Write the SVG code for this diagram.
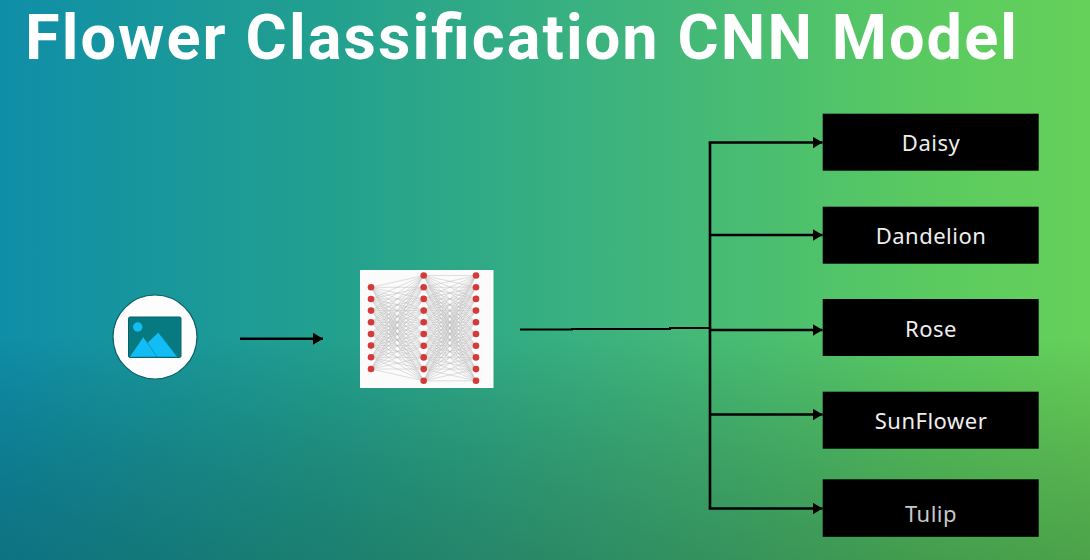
<svg xmlns="http://www.w3.org/2000/svg" width="1090" height="560" viewBox="0 0 1090 560">
<style>
.title{font-family:"Roboto","Noto Sans",sans-serif;font-weight:700;font-size:63px;fill:#fff}
.label{font-family:"Noto Sans","Open Sans",sans-serif;font-size:22px;fill:#eee;text-anchor:middle;letter-spacing:.5px}
.box{fill:#000}
.conn{fill:none;stroke:#000;stroke-width:2.6}
.edge{fill:none;stroke:#b8b8b8;stroke-width:.45}
.n{fill:#d53a3a}
</style>
<defs>
<linearGradient id="bg" x1="0" y1="0" x2="1" y2="0">
<stop offset="0" stop-color="#0f8ea8"/>
<stop offset=".3" stop-color="#22a08f"/>
<stop offset=".6" stop-color="#40b67b"/>
<stop offset=".85" stop-color="#5aca60"/>
<stop offset="1" stop-color="#66d15a"/>
</linearGradient>
<linearGradient id="shade" x1="0" y1="0" x2="0" y2="1">
<stop offset="0" stop-color="#000" stop-opacity="0"/>
<stop offset=".6" stop-color="#000" stop-opacity="0"/>
<stop offset="1" stop-color="#0a2a20" stop-opacity=".28"/>
</linearGradient>
<marker id="ah" viewBox="0 0 10 12" refX="10" refY="6" markerWidth="10" markerHeight="12" markerUnits="userSpaceOnUse" orient="auto"><path d="M0 0L10 6L0 12Z" fill="#000"/></marker>
</defs>
<rect width="1090" height="560" fill="url(#bg)"/>
<rect width="1090" height="560" fill="url(#shade)"/>
<text class="title" x="25" y="59" textLength="992" lengthAdjust="spacing">Flower Classification CNN Model</text>
<g id="connectors">
<path class="conn" style="stroke-width:2.4" d="M240 338.7H323" marker-end="url(#ah)"/>
<path class="conn" style="stroke-width:2" d="M520 329.6H572V329H670V328H710"/>
<path class="conn" d="M710 142.5V508.5"/>
<path class="conn" d="M708.7 142.5H822.5" marker-end="url(#ah)"/>
<path class="conn" d="M710 235H822.5" marker-end="url(#ah)"/>
<path class="conn" d="M710 330H822.500" marker-end="url(#ah)"/>
<path class="conn" d="M710 414.5H822.5" marker-end="url(#ah)"/>
<path class="conn" d="M708.7 508.5H822.5" marker-end="url(#ah)"/>
</g>
<g id="input-image">
<circle cx="155" cy="337" r="42" fill="#fdfdfd" stroke="#0d5f68" stroke-width="1.2"/>
<rect x="128.500" y="317" width="52.500" height="40.500" rx="1.500" fill="#067a80" stroke="#056068" stroke-width="1"/>
<circle cx="137.700" cy="327" r="4.700" fill="#12bdf5"/>
<path d="M158.300 332.300L177.500 357H150L145 345Z" fill="#12bdf5" stroke="#067a80" stroke-width=".6"/>
<path d="M143.300 336.700L157 357H129.500Z" fill="#12bdf5" stroke="#067a80" stroke-width=".6"/>
</g>
<g id="cnn-model">
<rect x="360" y="270" width="133.500" height="118" fill="#fbfbfb"/>
<path class="edge" d="M371 287.300L423.700 275.500M371 287.300L423.700 287.200M371 287.300L423.700 298.900M371 287.300L423.700 310.600M371 287.300L423.700 322.300M371 287.300L423.700 334M371 287.300L423.700 345.700M371 287.300L423.700 357.400M371 287.300L423.700 369.100M371 287.300L423.700 380.800
M371 299L423.700 275.500M371 299L423.700 287.200M371 299L423.700 298.900M371 299L423.700 310.600M371 299L423.700 322.300M371 299L423.700 334M371 299L423.700 345.700M371 299L423.700 357.400M371 299L423.700 369.100M371 299L423.700 380.800
M371 310.600L423.700 275.500M371 310.600L423.700 287.200M371 310.600L423.700 298.900M371 310.600L423.700 310.600M371 310.600L423.700 322.300M371 310.600L423.700 334M371 310.600L423.700 345.700M371 310.600L423.700 357.400M371 310.600L423.700 369.100M371 310.600L423.700 380.800
M371 322.300L423.700 275.500M371 322.300L423.700 287.200M371 322.300L423.700 298.900M371 322.300L423.700 310.600M371 322.300L423.700 322.300M371 322.300L423.700 334M371 322.300L423.700 345.700M371 322.300L423.700 357.400M371 322.300L423.700 369.100M371 322.300L423.700 380.800
M371 334L423.700 275.500M371 334L423.700 287.200M371 334L423.700 298.900M371 334L423.700 310.600M371 334L423.700 322.300M371 334L423.700 334M371 334L423.700 345.700M371 334L423.700 357.400M371 334L423.700 369.100M371 334L423.700 380.800
M371 345.600L423.700 275.500M371 345.600L423.700 287.200M371 345.600L423.700 298.900M371 345.600L423.700 310.600M371 345.600L423.700 322.300M371 345.600L423.700 334M371 345.600L423.700 345.700M371 345.600L423.700 357.400M371 345.600L423.700 369.100M371 345.600L423.700 380.800
M371 357.300L423.700 275.500M371 357.300L423.700 287.200M371 357.300L423.700 298.900M371 357.300L423.700 310.600M371 357.300L423.700 322.300M371 357.300L423.700 334M371 357.300L423.700 345.700M371 357.300L423.700 357.400M371 357.300L423.700 369.100M371 357.300L423.700 380.800
M371 369L423.700 275.500M371 369L423.700 287.200M371 369L423.700 298.900M371 369L423.700 310.600M371 369L423.700 322.300M371 369L423.700 334M371 369L423.700 345.700M371 369L423.700 357.400M371 369L423.700 369.100M371 369L423.700 380.800"/>
<path class="edge" d="M423.700 275.500L476 275.500M423.700 275.500L476 287.200M423.700 275.500L476 298.900M423.700 275.500L476 310.600M423.700 275.500L476 322.300M423.700 275.500L476 334M423.700 275.500L476 345.700M423.700 275.500L476 357.400M423.700 275.500L476 369.100M423.700 275.500L476 380.800
M423.700 287.200L476 275.500M423.700 287.200L476 287.200M423.700 287.200L476 298.900M423.700 287.200L476 310.600M423.700 287.200L476 322.300M423.700 287.200L476 334M423.700 287.200L476 345.700M423.700 287.200L476 357.400M423.700 287.200L476 369.100M423.700 287.200L476 380.800
M423.700 298.900L476 275.500M423.700 298.900L476 287.200M423.700 298.900L476 298.900M423.700 298.900L476 310.600M423.700 298.900L476 322.300M423.700 298.900L476 334M423.700 298.900L476 345.700M423.700 298.900L476 357.400M423.700 298.900L476 369.100M423.700 298.900L476 380.800
M423.700 310.600L476 275.500M423.700 310.600L476 287.200M423.700 310.600L476 298.900M423.700 310.600L476 310.600M423.700 310.600L476 322.300M423.700 310.600L476 334M423.700 310.600L476 345.700M423.700 310.600L476 357.400M423.700 310.600L476 369.100M423.700 310.600L476 380.800
M423.700 322.300L476 275.500M423.700 322.300L476 287.200M423.700 322.300L476 298.900M423.700 322.300L476 310.600M423.700 322.300L476 322.300M423.700 322.300L476 334M423.700 322.300L476 345.700M423.700 322.300L476 357.400M423.700 322.300L476 369.100M423.700 322.300L476 380.800
M423.700 334L476 275.500M423.700 334L476 287.200M423.700 334L476 298.900M423.700 334L476 310.600M423.700 334L476 322.300M423.700 334L476 334M423.700 334L476 345.700M423.700 334L476 357.400M423.700 334L476 369.100M423.700 334L476 380.800
M423.700 345.700L476 275.500M423.700 345.700L476 287.200M423.700 345.700L476 298.900M423.700 345.700L476 310.600M423.700 345.700L476 322.300M423.700 345.700L476 334M423.700 345.700L476 345.700M423.700 345.700L476 357.400M423.700 345.700L476 369.100M423.700 345.700L476 380.800
M423.700 357.400L476 275.500M423.700 357.400L476 287.200M423.700 357.400L476 298.900M423.700 357.400L476 310.600M423.700 357.400L476 322.300M423.700 357.400L476 334M423.700 357.400L476 345.700M423.700 357.400L476 357.400M423.700 357.400L476 369.100M423.700 357.400L476 380.800
M423.700 369.100L476 275.500M423.700 369.100L476 287.200M423.700 369.100L476 298.900M423.700 369.100L476 310.600M423.700 369.100L476 322.300M423.700 369.100L476 334M423.700 369.100L476 345.700M423.700 369.100L476 357.400M423.700 369.100L476 369.100M423.700 369.100L476 380.800
M423.700 380.800L476 275.500M423.700 380.800L476 287.200M423.700 380.800L476 298.900M423.700 380.800L476 310.600M423.700 380.800L476 322.300M423.700 380.800L476 334M423.700 380.800L476 345.700M423.700 380.800L476 357.400M423.700 380.800L476 369.100M423.700 380.800L476 380.800"/>
<g class="n">
<circle cx="371" cy="287.300" r="3.300"/><circle cx="371" cy="299" r="3.300"/><circle cx="371" cy="310.600" r="3.300"/><circle cx="371" cy="322.300" r="3.300"/><circle cx="371" cy="334" r="3.300"/><circle cx="371" cy="345.600" r="3.300"/><circle cx="371" cy="357.300" r="3.300"/><circle cx="371" cy="369" r="3.300"/>
<circle cx="423.700" cy="275.500" r="3.300"/><circle cx="423.700" cy="287.200" r="3.300"/><circle cx="423.700" cy="298.900" r="3.300"/><circle cx="423.700" cy="310.600" r="3.300"/><circle cx="423.700" cy="322.300" r="3.300"/><circle cx="423.700" cy="334" r="3.300"/><circle cx="423.700" cy="345.700" r="3.300"/><circle cx="423.700" cy="357.400" r="3.300"/><circle cx="423.700" cy="369.100" r="3.300"/><circle cx="423.700" cy="380.800" r="3.300"/>
<circle cx="476" cy="275.500" r="3.300"/><circle cx="476" cy="287.200" r="3.300"/><circle cx="476" cy="298.900" r="3.300"/><circle cx="476" cy="310.600" r="3.300"/><circle cx="476" cy="322.300" r="3.300"/><circle cx="476" cy="334" r="3.300"/><circle cx="476" cy="345.700" r="3.300"/><circle cx="476" cy="357.400" r="3.300"/><circle cx="476" cy="369.100" r="3.300"/><circle cx="476" cy="380.800" r="3.300"/>
</g>
</g>
<g id="daisy"><rect class="box" x="822.700" y="113.700" width="216" height="57"/><text class="label" x="931" y="151">Daisy</text></g>
<g id="dandelion"><rect class="box" x="822.700" y="206.700" width="216" height="57"/><text class="label" x="931" y="243.500">Dandelion</text></g>
<g id="rose"><rect class="box" x="822.700" y="299" width="216" height="57"/><text class="label" x="931" y="336.500">Rose</text></g>
<g id="sunflower"><rect class="box" x="822.700" y="391.700" width="216" height="57"/><text class="label" x="931" y="429">SunFlower</text></g>
<g id="tulip"><rect class="box" x="822.700" y="479.300" width="216" height="57.500"/><text class="label" x="931" y="521.700" style="fill:#c8c8c8">Tulip</text></g>
</svg>
